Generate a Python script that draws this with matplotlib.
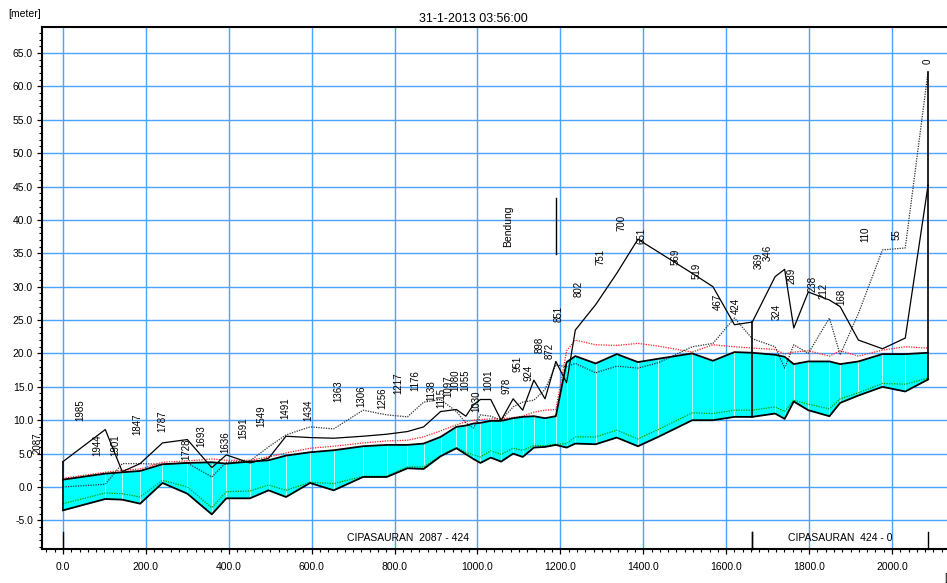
import matplotlib
matplotlib.use("Agg")
import matplotlib.pyplot as plt
from matplotlib.ticker import MultipleLocator, FormatStrFormatter

plt.rcParams['font.family'] = ['Liberation Sans', 'DejaVu Sans']

# Cross-section chainages along CIPASAURAN (upstream end = 0)
chainage = [2087, 1985, 1944, 1901, 1847, 1787, 1728, 1693, 1636, 1591, 1549, 1491,
            1434, 1363, 1306, 1256, 1217, 1176, 1138, 1115, 1097, 1080, 1055, 1030,
            1001, 978, 951, 924, 898, 872, 851, 802, 751, 700, 651, 569, 519, 467,
            424, 369, 346, 324, 289, 238, 212, 168, 110, 55, 0]

# Levels in metres at each cross-section
bed_level = [-3.5, -1.8, -1.9, -2.5, 0.6, -1.0, -4.1, -1.7, -1.7, -0.5, -1.5, 0.6,
             -0.5, 1.5, 1.5, 2.8, 2.7, 4.6, 5.8, 4.9, 4.2, 3.6, 4.4, 3.8,
             5.0, 4.5, 5.9, 6.0, 6.3, 5.9, 6.5, 6.4, 7.4, 6.1, 7.5, 10.0, 10.0, 10.5,
             10.5, 11.0, 10.2, 12.8, 11.5, 10.6, 12.6, 13.7, 15.0, 14.3, 16.1]
water_level = [1.1, 2.0, 2.2, 2.4, 3.4, 3.6, 3.7, 3.5, 3.8, 4.0, 4.7, 5.2,
               5.5, 6.1, 6.3, 6.3, 6.5, 7.5, 9.0, 9.2, 9.5, 9.6, 9.9, 9.9,
               10.3, 10.5, 10.6, 10.3, 10.6, 18.7, 19.6, 18.5, 19.9, 18.7, 19.2, 20.0, 18.9, 20.2,
               20.1, 19.8, 19.5, 18.4, 18.8, 18.8, 18.4, 18.8, 19.9, 19.9, 20.1]
max_water_level = [1.3, 2.2, 2.5, 2.7, 3.7, 3.9, 4.2, 4.0, 4.0, 4.5, 5.1, 5.8,
                   6.1, 6.6, 6.9, 7.0, 7.5, 8.4, 9.3, 9.8, 10.0, 10.1, 10.2, 10.2,
                   10.4, 10.6, 11.2, 11.5, 11.6, 20.4, 22.0, 21.3, 21.2, 21.5, 21.1, 20.2, 21.3, 21.0,
                   20.8, 20.6, 19.9, 20.2, 20.4, 19.6, 20.4, 19.6, 20.5, 21.0, 20.8]
min_water_level = [-2.5, -0.9, -1.0, -1.5, 1.0, 0.0, -3.1, -0.7, -0.6, 0.3, -0.5, 0.7,
                   0.5, 1.6, 1.6, 3.0, 3.0, 4.7, 5.9, 5.2, 4.8, 4.5, 5.4, 4.9,
                   5.8, 5.5, 6.2, 6.2, 6.4, 6.5, 7.5, 7.5, 8.5, 7.2, 8.6, 11.1, 11.0, 11.5,
                   11.5, 12.0, 11.3, 13.0, 12.4, 11.7, 13.2, 14.1, 15.5, 15.4, 16.3]
left_bank = [3.8, 8.6, 2.3, 3.5, 6.6, 7.1, 2.9, 4.8, 3.6, 4.3, 7.6, 7.4,
             7.3, 7.6, 7.9, 8.3, 9.0, 11.3, 11.6, 10.6, 12.3, 13.1, 13.1, 10.0,
             13.2, 11.5, 16.0, 13.2, 18.8, 15.6, 23.5, 27.3, 32.0, 37.1, 35.2, 32.0, 30.0, 24.3,
             24.7, 31.5, 32.6, 23.8, 29.2, 28.0, 27.0, 22.0, 20.7, 22.3, 45.2]
right_bank = [0.0, 0.4, 3.5, 3.5, 3.4, 3.6, 1.5, 3.7, 3.9, 6.0, 7.8, 9.0,
              8.7, 11.5, 10.8, 10.5, 12.7, 13.1, 11.3, 9.6, 8.8, 10.8, 10.6, 10.0,
              12.0, 12.7, 13.0, 14.6, 18.3, 18.0, 18.5, 17.1, 18.1, 17.8, 18.6, 21.0, 21.5, 25.3,
              22.2, 21.0, 17.8, 21.3, 20.0, 25.3, 19.8, 26.0, 35.5, 35.8, 62.2]

# Branches and structures
river = "CIPASAURAN"
branch_ranges = [(2087, 424), (424, 0)]
weir_name = "Bendung"
weir_chainage = 898
weir_marker = (34.9, 43.3)
timestamp = "31-1-2013 03:56:00"

total_length = max(chainage)
dist = [total_length - c for c in chainage]
bank_top = [max(a, b) for a, b in zip(left_bank, right_bank)]

fig = plt.figure(figsize=(9.47, 5.83), dpi=100)
ax = fig.add_axes([42 / 947, 34 / 583, 905 / 947, 522 / 583])
ax.set_xlim(-50.66, 2132.7)
ax.set_ylim(-9.29, 68.89)

# water body between bed and water surface
ax.fill_between(dist, bed_level, water_level, color='#00ffff', lw=0, zorder=2)
for d, b, w in zip(dist, bed_level, water_level):
    ax.plot([d, d], [b, w], color='#d8ffff', lw=0.6, zorder=2.5)

ax.plot(dist, min_water_level, color='#009a00', lw=0.9, ls=(0, (1, 1)), zorder=3)
ax.plot(dist, max_water_level, color='#ff2020', lw=0.9, ls=(0, (1, 1)), zorder=3)
ax.plot(dist, right_bank, color='#303030', lw=0.9, ls=(0, (1, 1)), zorder=3)
ax.plot(dist, left_bank, color='black', lw=0.9, zorder=3)
ax.plot(dist, water_level, color='black', lw=1.3, zorder=4)
ax.plot(dist, bed_level, color='black', lw=1.3, zorder=4)

# end sections and branch junction
for c in (branch_ranges[0][0], branch_ranges[0][1], branch_ranges[1][1]):
    i = chainage.index(c)
    ax.plot([dist[i], dist[i]], [bed_level[i], bank_top[i]], color='black', lw=1.2, zorder=4)

# chainage labels
for c, d, top in zip(chainage, dist, bank_top):
    txt = str(c)
    ax.annotate(txt, xy=(d, top), xytext=(-(len(txt) - 1) * 6.0, 5.8),
                textcoords='offset points', rotation=90, ha='center', va='bottom',
                fontsize=7, annotation_clip=False, zorder=5)

# weir
wd = total_length - weir_chainage
ax.plot([wd, wd], list(weir_marker), color='black', lw=1.0, zorder=4)
ax.annotate(weir_name, xy=(wd, sum(weir_marker) / 2), xytext=(-34, 0),
            textcoords='offset points', rotation=90, ha='center', va='center', fontsize=7.5)

# branch markers and names
xtrans = ax.get_xaxis_transform()
for start, end in branch_ranges:
    d0, d1 = total_length - start, total_length - end
    for d in (d0, d1):
        ax.plot([d, d], [0, 0.033], transform=xtrans, color='black', lw=1.0, zorder=5, clip_on=False)
    ax.text((d0 + d1) / 2, 0.022, f"{river}  {start} - {end}", transform=xtrans,
            ha='center', va='center', fontsize=7.5, zorder=5)

# axes styling
ax.xaxis.set_major_locator(MultipleLocator(200))
ax.xaxis.set_minor_locator(MultipleLocator(20))
ax.yaxis.set_major_locator(MultipleLocator(5))
ax.yaxis.set_minor_locator(MultipleLocator(1))
ax.xaxis.set_major_formatter(FormatStrFormatter('%.1f'))
ax.yaxis.set_major_formatter(FormatStrFormatter('%.1f'))
ax.set_axisbelow(True)
ax.grid(True, which='major', color='#4aa3ff', lw=1.0)
ax.tick_params(which='major', direction='out', length=3.5, width=0.9, labelsize=7.5, pad=3)
ax.tick_params(which='minor', direction='out', length=2.5, width=0.8)
ax.tick_params(axis='x', pad=6)
for s in ('left', 'bottom', 'top'):
    ax.spines[s].set_linewidth(1.5)
ax.spines['right'].set_visible(False)

fig.text(473 / 947, 1 - 19 / 583, timestamp, ha='center', va='center', fontsize=9)
fig.text(8 / 947, 1 - 14 / 583, "[meter]", ha='left', va='center', fontsize=7.5)
fig.text(944 / 947, 1 - 578 / 583, "[meter]", ha='left', va='center', fontsize=7.5)

fig.savefig('out.png', dpi=100)
